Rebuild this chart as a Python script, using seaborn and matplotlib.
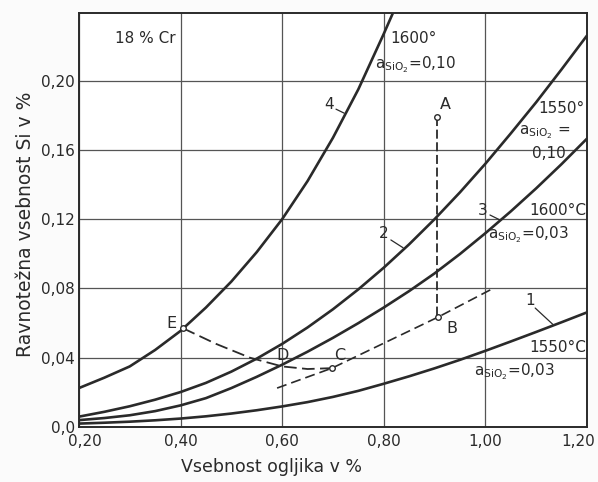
import matplotlib
matplotlib.use("Agg")
import matplotlib.pyplot as plt
from matplotlib.transforms import ScaledTranslation
import seaborn as sns
import pandas as pd

# Carbon content (%) at which the equilibrium curves are tabulated
carbon = [0.20, 0.25, 0.30, 0.35, 0.40, 0.45, 0.50, 0.55, 0.60, 0.65, 0.70,
          0.75, 0.80, 0.85, 0.90, 0.95, 1.00, 1.05, 1.10, 1.15, 1.20]

# Curve 1: 1550 °C, a(SiO2) = 0.03
si_curve1 = [0.0020, 0.0025, 0.0031, 0.0039, 0.0049, 0.0062, 0.0078, 0.0097,
             0.0119, 0.0144, 0.0174, 0.0209, 0.0250, 0.0293, 0.0339, 0.0388,
             0.0440, 0.0494, 0.0549, 0.0605, 0.0662]
# Curve 2: 1550 °C, a(SiO2) = 0.10
si_curve2 = [0.0060, 0.0088, 0.0120, 0.0158, 0.0202, 0.0255, 0.0320, 0.0395,
             0.0480, 0.0575, 0.0680, 0.0795, 0.0920, 0.1055, 0.1200, 0.1355,
             0.1520, 0.1695, 0.1875, 0.2065, 0.2260]
# Curve 3: 1600 °C, a(SiO2) = 0.03
si_curve3 = [0.0040, 0.0052, 0.0068, 0.0092, 0.0125, 0.0167, 0.0225, 0.0290,
             0.0360, 0.0435, 0.0515, 0.0600, 0.0690, 0.0785, 0.0887, 0.0999,
             0.1119, 0.1245, 0.1378, 0.1518, 0.1665]
# Curve 4: 1600 °C, a(SiO2) = 0.10 (leaves the chart near 0.82 % C)
carbon4 = [0.20, 0.25, 0.30, 0.35, 0.40, 0.45, 0.50, 0.55, 0.60, 0.65, 0.70,
           0.75, 0.80, 0.818]
si_curve4 = [0.0225, 0.0285, 0.0350, 0.0445, 0.0555, 0.0690, 0.0840, 0.1010,
             0.1200, 0.1420, 0.1670, 0.1950, 0.2270, 0.2390]

# Process path points
pt_names = ["A", "B", "C", "E"]
pt_c = [0.905, 0.907, 0.698, 0.405]
pt_si = [0.179, 0.0635, 0.034, 0.057]

# Dashed paths
path_ab_c = [0.905, 0.905]
path_ab_si = [0.179, 0.0635]
path_low_c = [0.59, 0.698, 0.907, 1.015]
path_low_si = [0.0225, 0.034, 0.0635, 0.080]
path_edc_c = [0.405, 0.47, 0.537, 0.60, 0.65, 0.698]
path_edc_si = [0.057, 0.048, 0.040, 0.035, 0.0335, 0.034]

x_ticks = [0.20, 0.40, 0.60, 0.80, 1.00, 1.20]
x_tick_labels = ["0,20", "0,40", "0,60", "0,80", "1,00", "1,20"]
y_ticks = [0.0, 0.04, 0.08, 0.12, 0.16, 0.20]
y_tick_labels = ["0,0", "0,04", "0,08", "0,12", "0,16", "0,20"]

sns.set_theme(style="white")
plt.rcParams["font.family"] = ["DejaVu Sans"]

frames = []
for name, xs, ys in [("1", carbon, si_curve1), ("2", carbon, si_curve2),
                     ("3", carbon, si_curve3), ("4", carbon4, si_curve4)]:
    frames.append(pd.DataFrame({"C": xs, "Si": ys, "curve": name}))
df = pd.concat(frames, ignore_index=True)

fig = plt.figure(figsize=(5.98, 4.82), dpi=100, facecolor="#fbfbfb")
ax = fig.add_axes([0.132, 0.114, 0.8496, 0.859])
ax.set_facecolor("white")

ink = "#2a2a2a"
sns.lineplot(data=df, x="C", y="Si", units="curve", estimator=None,
             color=ink, linewidth=1.9, sort=False, ax=ax, legend=False)

ax.set_xlim(0.2, 1.2)
ax.set_ylim(0.0, 0.239)
ax.set_xticks(x_ticks)
ax.set_xticklabels(x_tick_labels)
ax.set_yticks(y_ticks)
ax.set_yticklabels(y_tick_labels)
ax.tick_params(length=0, labelsize=11, colors=ink)
ax.tick_params(axis="y", pad=3)
ax.tick_params(axis="x", pad=5)
ax.grid(True, color="#555555", linewidth=0.9)
for s in ax.spines.values():
    s.set_visible(True)
    s.set_color(ink)
    s.set_linewidth(1.4)

# nudge the outer carbon labels: first away from "0,0", last inside the figure
first = ax.get_xticklabels()[0]
first.set_transform(first.get_transform()
                    + ScaledTranslation(4 / 72, 0, fig.dpi_scale_trans))
last = ax.get_xticklabels()[-1]
last.set_transform(last.get_transform()
                   + ScaledTranslation(-6 / 72, 0, fig.dpi_scale_trans))

# dashed process paths
ax.plot(path_ab_c, path_ab_si, color=ink, lw=1.3, ls=(0, (5, 2)))
ax.plot(path_low_c, path_low_si, color=ink, lw=1.2, ls=(0, (6, 3)))
ax.plot(path_edc_c, path_edc_si, color=ink, lw=1.3, ls=(0, (7, 3)))
ax.plot(pt_c, pt_si, ls="none", marker="o", ms=4, mfc="white", mec=ink, mew=1.0)

lbl_off = {"A": (0.922, 0.186), "B": (0.934, 0.057), "C": (0.714, 0.0415),
           "E": (0.383, 0.060)}
for n in pt_names:
    ax.text(*lbl_off[n], n, fontsize=11.5, color=ink, ha="center", va="center")
ax.text(0.600, 0.0415, "D", fontsize=11.5, color=ink, ha="center", va="center")

# curve numbers with leader ticks
nums = [("1", (1.088, 0.073), [(1.098, 1.133), (0.0687, 0.0592)]),
        ("2", (0.800, 0.112), [(0.814, 0.838), (0.108, 0.1035)]),
        ("3", (0.995, 0.125), [(1.009, 1.029), (0.1224, 0.1195)]),
        ("4", (0.692, 0.186), [(0.706, 0.722), (0.1835, 0.1812)])]
for t, pos, (lx, ly) in nums:
    ax.text(*pos, t, fontsize=11, color=ink, ha="center", va="center")
    ax.plot(lx, ly, color=ink, lw=0.9)

asio2 = r"$\mathregular{a_{SiO_2}}$"
tk = dict(fontsize=11, color=ink)
ax.text(0.271, 0.224, "18 % Cr", va="center", ha="left", **tk)
ax.text(0.812, 0.224, "1600°", va="center", ha="left", **tk)
ax.text(0.782, 0.209, asio2 + "=0,10", va="center", ha="left", **tk)
ax.text(1.195, 0.184, "1550°", va="center", ha="right", **tk)
ax.text(1.066, 0.170, asio2 + " =", va="center", ha="left", **tk)
ax.text(1.092, 0.158, "0,10", va="center", ha="left", **tk)
ax.text(1.198, 0.125, "1600°C", va="center", ha="right", **tk)
ax.text(1.005, 0.111, asio2 + "=0,03", va="center", ha="left", **tk)
ax.text(1.198, 0.046, "1550°C", va="center", ha="right", **tk)
ax.text(0.978, 0.032, asio2 + "=0,03", va="center", ha="left", **tk)

ax.set_xlabel("Vsebnost ogljika v %", fontsize=12.5, color=ink)
ax.xaxis.set_label_coords(0.38, -0.075)
ax.set_ylabel("Ravnotežna vsebnost Si v %", fontsize=13.5, color=ink)
ax.yaxis.set_label_coords(-0.087, 0.49)

fig.savefig("out.png", dpi=100, facecolor=fig.get_facecolor())
